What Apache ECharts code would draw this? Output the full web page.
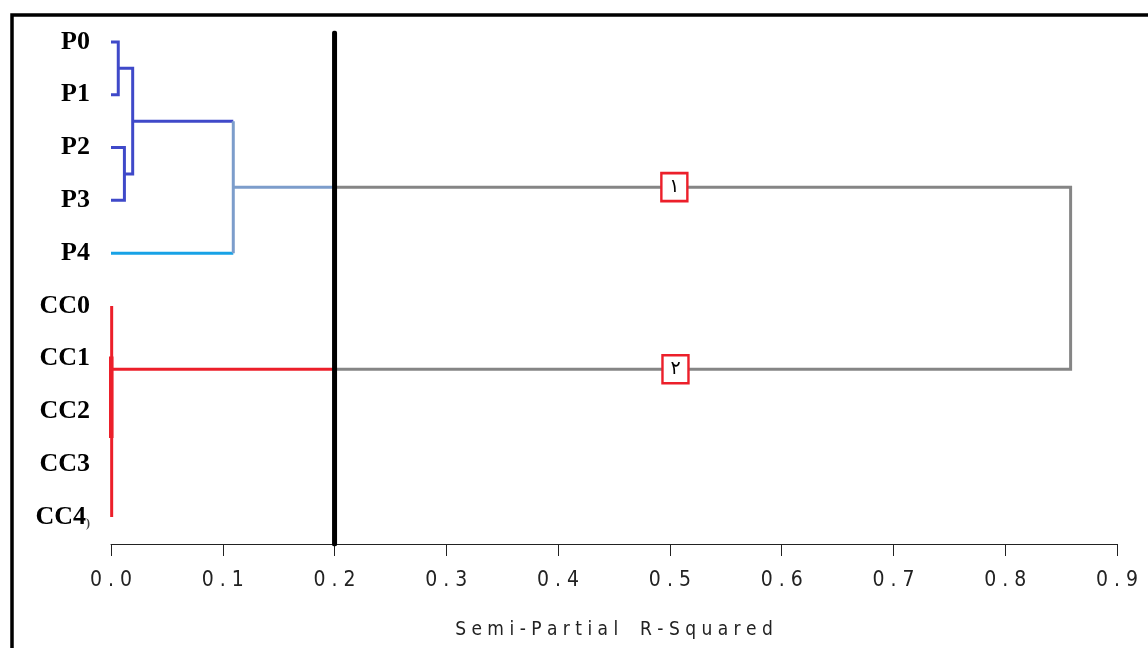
<!DOCTYPE html>
<html><head><meta charset="utf-8">
<script src="https://cdn.jsdelivr.net/npm/echarts@6/dist/echarts.min.js"></script>
<style>html,body{margin:0;padding:0;background:#fff}#c{width:1148px;height:648px}</style>
</head><body><div id="c"></div>
<script>
// ---- data ----
const leaves = ['P0', 'P1', 'P2', 'P3', 'P4', 'CC0', 'CC1', 'CC2', 'CC3', 'CC4'];
const xTicks = [0, 0.1, 0.2, 0.3, 0.4, 0.5, 0.6, 0.7, 0.8, 0.9];
const pPairHeights = [0.0065, 0.012];   // P0-P1, P2-P3
const pCoreHeight = 0.0194;             // (P0,P1)-(P2,P3)
const pAllHeight = 0.1094;              // + P4
const ccHeight = 0.0006;                // CC0..CC4 join
const ccDenseSpan = [5.96, 7.5];        // overlapping CC joins
const ccJoinPos = 6.2;                  // leaf position of the CC join
const rootHeight = 0.8585;              // final join
const cutValue = 0.2;                   // cut line
const clusterNames = ['١', '٢'];
const clusterLabelX = [0.504, 0.505];

const C_BLUE = '#3f49c9', C_LBLUE = '#17a2e6', C_STEEL = '#7c9dcb',
      C_GRAY = '#858585', C_RED = '#ec1f2a';
const Y_MIN = -0.17, Y_MAX = 9.51;

// build segments
const pA = 0.5, pB = 2.5, pCore = (pA + pB) / 2, pAll = (pCore + 4) / 2;
const segs = [
  {c: [[0, 0], [pPairHeights[0], 0], [pPairHeights[0], 1], [0, 1]], col: C_BLUE},
  {c: [[0, 2], [pPairHeights[1], 2], [pPairHeights[1], 3], [0, 3]], col: C_BLUE},
  {c: [[pPairHeights[0], pA], [pCoreHeight, pA], [pCoreHeight, pB], [pPairHeights[1], pB]], col: C_BLUE},
  {c: [[pCoreHeight, pCore], [pAllHeight, pCore]], col: C_BLUE},
  {c: [[0, 4], [pAllHeight, 4]], col: C_LBLUE},
  {c: [[pAllHeight, pCore], [pAllHeight, 4]], col: C_STEEL},
  {c: [[pAllHeight, pAll], [cutValue, pAll]], col: C_STEEL},
  {c: [[cutValue, pAll], [rootHeight, pAll], [rootHeight, ccJoinPos], [cutValue, ccJoinPos]], col: C_GRAY},
  {c: [[ccHeight, 5], [ccHeight, 9]], col: C_RED},
  {c: [[0, ccDenseSpan[0]], [0, ccDenseSpan[1]]], col: C_RED, w: 5},
  {c: [[0, ccJoinPos], [cutValue, ccJoinPos]], col: C_RED}
];

const chart = echarts.init(document.getElementById('c'));
const tickFont = "'Liberation Sans Narrow','DejaVu Sans Condensed','Liberation Sans',sans-serif";
chart.setOption({
  animation: false,
  backgroundColor: '#fff',
  grid: {left: 111, right: 31, top: 33, bottom: 104, containLabel: false},
  xAxis: {
    type: 'value', min: 0, max: 0.9, interval: 0.1, position: 'bottom',
    axisLine: {show: true, onZero: false, lineStyle: {color: '#222', width: 1}},
    axisTick: {show: true, length: 12, lineStyle: {color: '#222', width: 1}},
    splitLine: {show: false},
    axisLabel: {
      margin: 26, color: '#222', fontSize: 21, fontFamily: tickFont,
      formatter: v => v.toFixed(1).split('').join(' ')
    },
    name: 'Semi-Partial R-Squared'.split('').join(' ').replace('l   R', 'l    R'),
    nameLocation: 'middle', nameGap: 77,
    nameTextStyle: {color: '#222', fontSize: 19, fontFamily: tickFont}
  },
  yAxis: {
    type: 'value', inverse: true, min: Y_MIN, max: Y_MAX,
    axisLine: {show: false}, axisTick: {show: false}, splitLine: {show: false},
    axisLabel: {
      customValues: leaves.map((_, i) => i),
      margin: 21, color: '#000', fontSize: 26, fontWeight: 'bold',
      fontFamily: "'Liberation Serif','Times New Roman',serif",
      formatter: v => {
        const n = leaves[Math.round(v)];
        return n === 'CC4' ? n + '{s|)}' : n;
      },
      rich: {s: {fontSize: 12, color: '#444', fontFamily: "'Liberation Serif',serif", verticalAlign: 'bottom'}}
    }
  },
  graphic: [{
    type: 'rect', z: 100, silent: true,
    shape: {x: 12, y: 15, width: 1400, height: 800},
    style: {fill: 'none', stroke: '#000', lineWidth: 3.5}
  }],
  series: [
    {
      type: 'lines', coordinateSystem: 'cartesian2d', polyline: true, silent: true, z: 2,
      data: segs.map(s => ({coords: s.c, lineStyle: {color: s.col, width: s.w || 3, opacity: 1}})),
      lineStyle: {width: 3, opacity: 1}
    },
    {
      type: 'lines', coordinateSystem: 'cartesian2d', polyline: true, silent: true, z: 3,
      data: [{coords: [[cutValue, Y_MIN], [cutValue, Y_MAX]]}],
      lineStyle: {color: '#000', width: 5, opacity: 1, cap: 'round'}
    },
    {
      type: 'scatter', silent: true, z: 4,
      symbol: 'rect', symbolSize: [26, 28],
      itemStyle: {color: '#fff', borderColor: C_RED, borderWidth: 2.5, opacity: 1},
      label: {show: true, position: 'inside', color: '#000', fontSize: 19,
              fontFamily: "'DejaVu Sans',sans-serif", formatter: p => clusterNames[p.dataIndex]},
      data: [[clusterLabelX[0], pAll], [clusterLabelX[1], ccJoinPos]]
    }
  ]
});
</script></body></html>
